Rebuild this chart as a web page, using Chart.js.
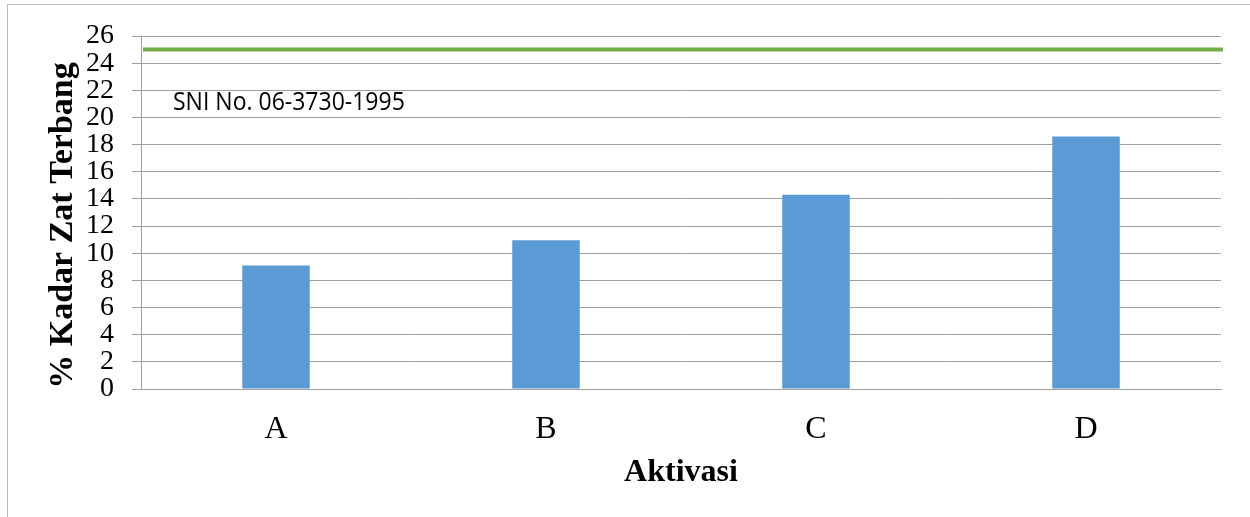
<!DOCTYPE html>
<html>
<head>
<meta charset="utf-8">
<script src="https://cdn.jsdelivr.net/npm/chart.js@4/dist/chart.umd.min.js"></script>
<style>
  html, body { margin: 0; padding: 0; background: #fff; overflow: hidden; }
  #wrap { position: relative; width: 1250px; height: 517px; }
  #frame { position: absolute; left: 7px; top: 4px; width: 1260px; height: 600px;
           border: 1px solid #bdbdbd; box-sizing: border-box; pointer-events: none; }
  canvas { position: absolute; left: 0; top: 0; }
</style>
</head>
<body>
<div id="wrap">
  <canvas id="c" width="1250" height="517"></canvas>
  <div id="frame"></div>
</div>
<script>
// Activation variants on the category axis
const categories = ['A', 'B', 'C', 'D'];
// Volatile matter content (%) for each activation
const kadarZatTerbang = [9.1, 10.95, 14.3, 18.6];
// SNI No. 06-3730-1995 maximum volatile matter (%)
const sniLimit = 25;
const sniLabel = 'SNI No. 06-3730-1995';
// Y axis range and step
const yMin = 0, yMax = 26, yStep = 2;

const serif = '"Liberation Serif", "Times New Roman", serif';

// Horizontal standard line across the plot, placed through the y scale
const sniLinePlugin = {
  id: 'sniLine',
  afterDatasetsDraw(chart) {
    const { ctx, chartArea, scales } = chart;
    const y = scales.y.getPixelForValue(sniLimit);
    ctx.save();
    ctx.strokeStyle = '#70ad47';
    ctx.lineWidth = 4;
    ctx.beginPath();
    ctx.moveTo(chartArea.left + 2, y);
    ctx.lineTo(chartArea.right + 2, y);
    ctx.stroke();
    ctx.restore();
  }
};

// Axis titles and the standard's label
const textPlugin = {
  id: 'titlesAndLabel',
  afterDraw(chart) {
    const { ctx, chartArea, scales } = chart;
    ctx.save();
    ctx.fillStyle = '#000';

    // y axis title
    ctx.save();
    ctx.translate(63, (chartArea.top + chartArea.bottom) / 2 + 13);
    ctx.rotate(-Math.PI / 2);
    ctx.font = 'bold 34px ' + serif;
    ctx.textAlign = 'center';
    ctx.textBaseline = 'middle';
    ctx.fillText('% Kadar Zat Terbang', 0, 0);
    ctx.restore();

    // x axis title
    ctx.font = 'bold 32px ' + serif;
    ctx.textAlign = 'center';
    ctx.textBaseline = 'alphabetic';
    ctx.fillText('Aktivasi', (chartArea.left + chartArea.right) / 2, 481);

    // label for the standard line
    ctx.save();
    const ly = scales.y.getPixelForValue(20.55);
    ctx.translate(chartArea.left + 32, ly);
    ctx.scale(1, 1.1);
    ctx.font = '23px "Open Sans", sans-serif';
    ctx.textAlign = 'left';
    ctx.textBaseline = 'alphabetic';
    ctx.fillText(sniLabel, 0, 0);
    ctx.restore();

    ctx.restore();
  }
};

new Chart(document.getElementById('c'), {
  type: 'bar',
  data: {
    labels: categories,
    datasets: [
      {
        label: 'Kadar Zat Terbang',
        data: kadarZatTerbang,
        backgroundColor: '#5b9bd5',
        borderWidth: 0,
        categoryPercentage: 1.0,
        barPercentage: 0.25
      }
    ]
  },
  options: {
    responsive: false,
    animation: false,
    devicePixelRatio: 1,
    layout: { padding: { left: 0, top: 36, right: 29, bottom: 0 } },
    plugins: {
      legend: { display: false },
      tooltip: { enabled: false },
      title: { display: false }
    },
    scales: {
      x: {
        type: 'category',
        grid: { display: false },
        border: { display: true, color: '#a0a0a0', width: 1 },
        ticks: {
          color: '#000',
          font: { family: serif, size: 32 },
          padding: 13
        },
        afterFit(scale) { scale.height = 128; }
      },
      y: {
        min: yMin,
        max: yMax,
        ticks: {
          stepSize: yStep,
          autoSkip: false,
          color: '#000',
          font: { family: serif, size: 28, lineHeight: 1 },
          padding: 18
        },
        grid: {
          color: '#a0a0a0',
          lineWidth: 1,
          tickLength: 9,
          drawTicks: true
        },
        border: { display: true, color: '#a0a0a0', width: 1 },
        afterFit(scale) { scale.width = 141; }
      }
    }
  },
  plugins: [sniLinePlugin, textPlugin]
});
</script>
</body>
</html>
